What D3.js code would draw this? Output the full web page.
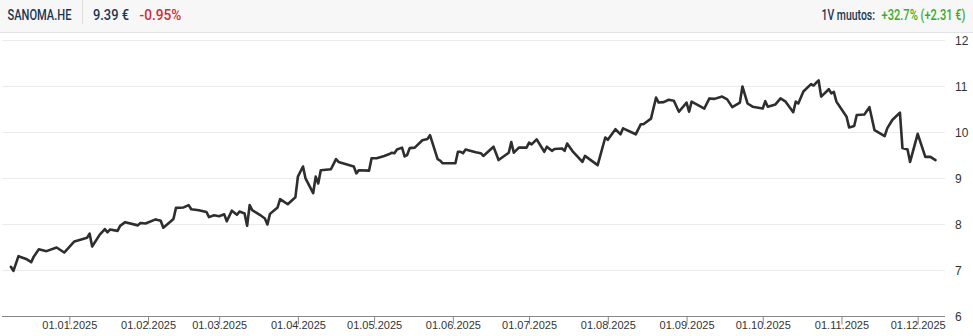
<!DOCTYPE html>
<html><head><meta charset="utf-8">
<script src="https://cdn.jsdelivr.net/npm/d3@7"></script>
<style>
html,body{margin:0;padding:0;background:#fff;}
svg{display:block;}
</style></head>
<body>
<svg id="chart" width="973" height="336"></svg>
<script>
const ticker = "SANOMA.HE";
const lastPrice = "9.39 €";
const dayChange = "-0.95%";
const yearLabel = "1V muutos:";
const yearChange = "+32.7% (+2.31 €)";

const dates = [
"2024-12-09","2024-12-10","2024-12-12","2024-12-15","2024-12-17","2024-12-18","2024-12-20","2024-12-23","2024-12-27","2024-12-30",
"2025-01-03","2025-01-06","2025-01-08","2025-01-09","2025-01-10","2025-01-13","2025-01-15","2025-01-16","2025-01-17","2025-01-20",
"2025-01-21","2025-01-23","2025-01-28","2025-01-29","2025-01-31","2025-02-04","2025-02-06","2025-02-07","2025-02-10","2025-02-11",
"2025-02-12","2025-02-15","2025-02-17","2025-02-18","2025-02-21","2025-02-24","2025-02-25","2025-02-27","2025-03-01","2025-03-03",
"2025-03-04","2025-03-06","2025-03-08","2025-03-09","2025-03-11","2025-03-12","2025-03-13","2025-03-14","2025-03-17","2025-03-19",
"2025-03-20","2025-03-21","2025-03-24","2025-03-25","2025-03-28","2025-03-31","2025-04-01","2025-04-03","2025-04-04","2025-04-07",
"2025-04-08","2025-04-09","2025-04-10","2025-04-14","2025-04-16","2025-04-17","2025-04-23","2025-04-24","2025-04-25","2025-04-29",
"2025-04-30","2025-05-02","2025-05-05","2025-05-07","2025-05-08","2025-05-09","2025-05-10","2025-05-12","2025-05-13","2025-05-14",
"2025-05-15","2025-05-17","2025-05-20","2025-05-22","2025-05-23","2025-05-26","2025-05-27","2025-05-28","2025-06-02","2025-06-03",
"2025-06-04","2025-06-05","2025-06-06","2025-06-10","2025-06-12","2025-06-13","2025-06-17","2025-06-19","2025-06-23","2025-06-24",
"2025-06-25","2025-06-27","2025-06-30","2025-07-01","2025-07-02","2025-07-04","2025-07-07","2025-07-08","2025-07-10","2025-07-11",
"2025-07-14","2025-07-15","2025-07-16","2025-07-18","2025-07-22","2025-07-23","2025-07-28","2025-07-31","2025-08-01","2025-08-04",
"2025-08-06","2025-08-07","2025-08-12","2025-08-14","2025-08-15","2025-08-18","2025-08-20","2025-08-21","2025-08-23","2025-08-25",
"2025-08-27","2025-08-29","2025-09-01","2025-09-02","2025-09-03","2025-09-08","2025-09-10","2025-09-12","2025-09-15","2025-09-17",
"2025-09-19","2025-09-22","2025-09-23","2025-09-25","2025-09-27","2025-10-01","2025-10-02","2025-10-03","2025-10-06","2025-10-08",
"2025-10-10","2025-10-13","2025-10-14","2025-10-15","2025-10-17","2025-10-20","2025-10-21","2025-10-22","2025-10-23","2025-10-24",
"2025-10-27","2025-10-28","2025-10-29","2025-10-30","2025-11-03","2025-11-04","2025-11-06","2025-11-07","2025-11-10","2025-11-12",
"2025-11-14","2025-11-18","2025-11-19","2025-11-21","2025-11-24","2025-11-25","2025-11-27","2025-11-28","2025-12-01","2025-12-04",
"2025-12-06","2025-12-08"
];

const prices = [
7.07,6.98,7.30,7.24,7.17,7.29,7.45,7.41,7.49,7.38,
7.62,7.67,7.70,7.79,7.51,7.77,7.89,7.82,7.88,7.85,
7.96,8.04,7.97,8.02,8.01,8.10,8.07,7.92,8.06,8.11,
8.35,8.36,8.41,8.32,8.30,8.26,8.15,8.19,8.17,8.21,
8.06,8.29,8.20,8.27,8.23,7.96,8.41,8.30,8.20,8.12,
7.99,8.22,8.36,8.54,8.43,8.58,9.03,9.25,8.99,8.67,
9.03,8.88,9.17,9.19,9.41,9.35,9.25,9.10,9.17,9.16,
9.43,9.43,9.48,9.52,9.55,9.54,9.62,9.66,9.47,9.50,
9.65,9.66,9.82,9.85,9.93,9.41,9.38,9.32,9.32,9.57,
9.57,9.54,9.62,9.56,9.54,9.48,9.68,9.39,9.55,9.78,
9.55,9.66,9.66,9.77,9.73,9.84,9.57,9.68,9.59,9.63,
9.64,9.59,9.75,9.59,9.35,9.48,9.28,9.88,9.83,10.06,
9.95,10.08,9.95,10.17,10.17,10.29,10.75,10.64,10.65,10.70,
10.68,10.44,10.64,10.44,10.66,10.51,10.73,10.72,10.77,10.71,
10.54,10.64,10.99,10.62,10.55,10.51,10.67,10.55,10.60,10.73,
10.66,10.43,10.66,10.62,10.88,11.04,11.01,11.07,11.12,10.77,
10.93,10.84,10.87,10.66,10.33,10.10,10.13,10.37,10.38,10.54,
10.04,9.91,10.08,10.26,10.42,9.65,9.62,9.35,9.96,9.46,
9.46,9.39
];

const yTicks = [6,7,8,9,10,11,12];
const xTickDates = ["2025-01-01","2025-02-01","2025-03-01","2025-04-01","2025-05-01","2025-06-01",
                    "2025-07-01","2025-08-01","2025-09-01","2025-10-01","2025-11-01","2025-12-01"];

const parse = d3.utcParse("%Y-%m-%d");
const data = dates.map((d,i)=>({date:parse(d), value:prices[i]}));

const svg = d3.select("#chart");
const W = 973, H = 336;

// header
svg.append("rect").attr("x",0).attr("y",0).attr("width",W).attr("height",32).attr("fill","#f7f7f7");
svg.append("line").attr("x1",0).attr("x2",W).attr("y1",32.5).attr("y2",32.5).attr("stroke","#e3e3e3");
svg.append("line").attr("x1",82.5).attr("x2",82.5).attr("y1",0).attr("y2",24).attr("stroke","#dcdcdc");

const hf = "Roboto,'Liberation Sans',sans-serif";
// condensed header text: natural text is squeezed horizontally to the reference width
function hText(str, x0, y0, width, size, color){
  const g = svg.append("g");
  const t = g.append("text").attr("x",0).attr("y",0)
    .attr("font-family",hf).attr("font-size",size).attr("font-weight",500).attr("fill",color).text(str);
  const w = t.node().getComputedTextLength();
  g.attr("transform",`translate(${x0},${y0}) scale(${width/w},1)`);
}
hText(ticker, 7.5, 20, 64, 15.5, "#1b3653");
hText(lastPrice, 93, 20, 36, 15.5, "#1b3653");
hText(dayChange, 139.5, 20, 42, 15.5, "#d42a35");
hText(yearLabel, 821.5, 19.5, 53.5, 15, "#1b3653");
hText(yearChange, 881.5, 19.5, 84, 15, "#3aab28");

// scales
const x = d3.scaleUtc()
  .domain([parse("2025-01-01"), parse("2025-12-01")])
  .range([69.3, 917.7]);
const y = d3.scaleLinear().domain([6,12]).range([316,40]);

const left = 2, right = 945;

// gridlines
svg.append("g").selectAll("line").data(yTicks.filter(t=>t>6)).join("line")
  .attr("x1",left).attr("x2",right)
  .attr("y1",d=>Math.round(y(d))+0.5).attr("y2",d=>Math.round(y(d))+0.5)
  .attr("stroke","#ebebeb").attr("stroke-width",1);

// y labels
svg.append("g").attr("font-family","'Liberation Sans',Arial,sans-serif").attr("font-size",12).attr("fill","#333")
  .selectAll("text").data(yTicks).join("text")
  .attr("x",955).attr("y",d=>y(d)+4.5).text(d=>d);

// x axis
const xAxis = d3.axisBottom(x)
  .tickValues(xTickDates.map(parse))
  .tickFormat(d3.utcFormat("%d.%m.%Y"))
  .tickSize(8).tickSizeOuter(0);
const gx = svg.append("g").attr("transform",`translate(0,${Math.round(y(6))+0.5})`).call(xAxis);
gx.select(".domain").attr("d",`M${left},0H${right}`).attr("stroke","#888");
gx.selectAll(".tick line").attr("stroke","#888");
gx.selectAll(".tick text").attr("font-family","'Liberation Sans',Arial,sans-serif").attr("font-size",11).attr("fill","#333").attr("dy","0.35em").attr("y",9);

// line
const line = d3.line().x(d=>x(d.date)).y(d=>y(d.value)).curve(d3.curveLinear);
svg.append("path").datum(data).attr("d",line)
  .attr("fill","none").attr("stroke","#2e2e2e").attr("stroke-width",2.6)
  .attr("stroke-linejoin","round").attr("stroke-linecap","round");
</script>
</body></html>
